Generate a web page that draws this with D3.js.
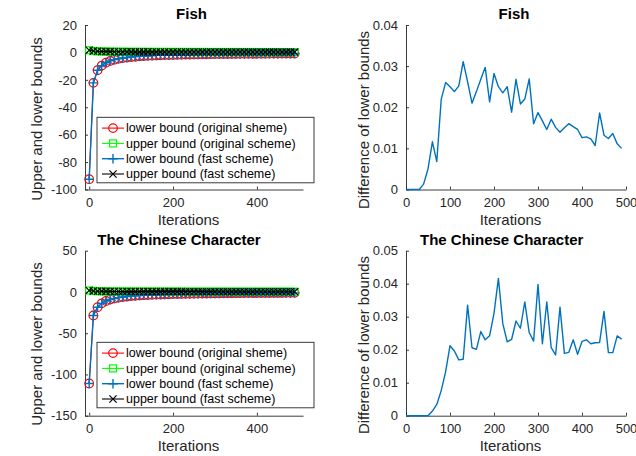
<!DOCTYPE html>
<html>
<head>
<meta charset="utf-8">
<script src="https://cdn.jsdelivr.net/npm/d3@7/dist/d3.min.js"></script>
<style>
body { margin: 0; background: #fff; }
svg text { font-family: "Liberation Sans", Arial, sans-serif; }
.axis path, .axis line { stroke: #262626; stroke-width: 0.9; }
.axis text { fill: #262626; font-size: 13px; }
.title { font-size: 15px; font-weight: bold; fill: #000; }
.label { font-size: 15px; fill: #262626; }
.legend text { font-size: 12.5px; fill: #000; }
</style>
</head>
<body>
<svg id="chart" width="636" height="456"></svg>
<script>
// iteration numbers (one sample every 10 iterations)
var iterations = [0, 10, 20, 30, 40, 50, 60, 70, 80, 90,
    100, 110, 120, 130, 140, 150, 160, 170, 180, 190,
    200, 210, 220, 230, 240, 250, 260, 270, 280, 290,
    300, 310, 320, 330, 340, 350, 360, 370, 380, 390,
    400, 410, 420, 430, 440, 450, 460, 470, 480, 490];

// Fish
var fishLowerOrig = [-92.5, -22.2, -13.0, -9.6, -7.5, -6.2, -5.3, -4.6, -4.1, -3.7,
    -3.35, -3.1, -2.85, -2.65, -2.5, -2.35, -2.2, -2.1, -2.0, -1.9,
    -1.82, -1.74, -1.67, -1.6, -1.54, -1.48, -1.43, -1.38, -1.33, -1.29,
    -1.25, -1.21, -1.18, -1.15, -1.12, -1.09, -1.06, -1.03, -1.01, -0.99,
    -0.96, -0.94, -0.92, -0.9, -0.88, -0.87, -0.85, -0.83, -0.82, -0.8];
var fishUpperOrig = [1.6, 1.0, 0.8, 0.7, 0.62, 0.56, 0.52, 0.49, 0.46, 0.44,
    0.42, 0.41, 0.4, 0.39, 0.38, 0.37, 0.36, 0.35, 0.35, 0.34,
    0.33, 0.33, 0.32, 0.32, 0.31, 0.31, 0.3, 0.3, 0.3, 0.29,
    0.29, 0.29, 0.28, 0.28, 0.28, 0.28, 0.27, 0.27, 0.27, 0.27,
    0.26, 0.26, 0.26, 0.26, 0.26, 0.25, 0.25, 0.25, 0.25, 0.25];
var fishLowerFast = [-92.5, -22.2, -13.0, -9.6, -7.5, -6.19, -5.29, -4.59, -4.08, -3.67,
    -3.33, -3.07, -2.82, -2.62, -2.47, -2.33, -2.18, -2.07, -1.97, -1.88,
    -1.79, -1.72, -1.65, -1.58, -1.52, -1.45, -1.41, -1.36, -1.3, -1.27,
    -1.23, -1.19, -1.17, -1.13, -1.1, -1.08, -1.05, -1.01, -0.99, -0.98,
    -0.95, -0.93, -0.91, -0.89, -0.86, -0.86, -0.84, -0.82, -0.81, -0.79];
var fishUpperFast = [1.6, 1.0, 0.8, 0.7, 0.62, 0.56, 0.52, 0.49, 0.46, 0.44,
    0.42, 0.41, 0.4, 0.39, 0.38, 0.37, 0.36, 0.35, 0.35, 0.34,
    0.33, 0.33, 0.32, 0.32, 0.31, 0.31, 0.3, 0.3, 0.3, 0.29,
    0.29, 0.29, 0.28, 0.28, 0.28, 0.28, 0.27, 0.27, 0.27, 0.27,
    0.26, 0.26, 0.26, 0.26, 0.26, 0.25, 0.25, 0.25, 0.25, 0.25];
var fishDiff = [0, 0, 0, 0, 0.0013, 0.005, 0.0116, 0.0068, 0.0219, 0.026,
    0.025, 0.0238, 0.0252, 0.0311, 0.0262, 0.021, 0.0238, 0.0268, 0.0297, 0.0213,
    0.0282, 0.025, 0.0235, 0.025, 0.0188, 0.0268, 0.0208, 0.022, 0.0269, 0.016,
    0.0187, 0.0167, 0.0146, 0.0171, 0.0151, 0.0139, 0.015, 0.016, 0.0153, 0.0146,
    0.0126, 0.0128, 0.0123, 0.0107, 0.0186, 0.0132, 0.0124, 0.0136, 0.0111, 0.01];

// The Chinese Character
var charLowerOrig = [-111, -28.5, -18.5, -13.8, -11.0, -9.2, -7.9, -6.9, -6.1, -5.5,
    -5.0, -4.6, -4.25, -3.95, -3.7, -3.45, -3.25, -3.07, -2.9, -2.76,
    -2.63, -2.51, -2.4, -2.3, -2.2, -2.12, -2.04, -1.96, -1.89, -1.83,
    -1.77, -1.71, -1.66, -1.61, -1.56, -1.52, -1.48, -1.44, -1.4, -1.37,
    -1.34, -1.3, -1.27, -1.25, -1.22, -1.19, -1.17, -1.15, -1.12, -1.1];
var charUpperOrig = [1.8, 1.2, 0.9, 0.78, 0.7, 0.64, 0.6, 0.56, 0.53, 0.5,
    0.48, 0.46, 0.45, 0.44, 0.43, 0.42, 0.41, 0.4, 0.39, 0.38,
    0.38, 0.37, 0.37, 0.36, 0.36, 0.35, 0.35, 0.34, 0.34, 0.34,
    0.33, 0.33, 0.33, 0.32, 0.32, 0.32, 0.31, 0.31, 0.31, 0.31,
    0.3, 0.3, 0.3, 0.3, 0.29, 0.29, 0.29, 0.29, 0.29, 0.28];
var charLowerFast = [-111, -28.5, -18.5, -13.8, -11.0, -9.2, -7.9, -6.89, -6.09, -5.49,
    -4.98, -4.58, -4.23, -3.93, -3.67, -3.43, -3.23, -3.04, -2.88, -2.74,
    -2.6, -2.47, -2.37, -2.28, -2.18, -2.09, -2.01, -1.93, -1.86, -1.81,
    -1.73, -1.69, -1.63, -1.59, -1.54, -1.49, -1.46, -1.42, -1.38, -1.35,
    -1.32, -1.28, -1.25, -1.23, -1.2, -1.16, -1.15, -1.13, -1.1, -1.08];
var charUpperFast = [1.8, 1.2, 0.9, 0.78, 0.7, 0.64, 0.6, 0.56, 0.53, 0.5,
    0.48, 0.46, 0.45, 0.44, 0.43, 0.42, 0.41, 0.4, 0.39, 0.38,
    0.38, 0.37, 0.37, 0.36, 0.36, 0.35, 0.35, 0.34, 0.34, 0.34,
    0.33, 0.33, 0.33, 0.32, 0.32, 0.32, 0.31, 0.31, 0.31, 0.31,
    0.3, 0.3, 0.3, 0.3, 0.29, 0.29, 0.29, 0.29, 0.29, 0.28];
var charDiff = [0, 0, 0, 0, 0, 0, 0.0014, 0.0034, 0.0076, 0.0133,
    0.0212, 0.0196, 0.0169, 0.0171, 0.0335, 0.0206, 0.0201, 0.0255, 0.023, 0.0242,
    0.031, 0.0416, 0.0279, 0.0224, 0.0231, 0.0287, 0.0265, 0.0345, 0.0252, 0.0226,
    0.0398, 0.0218, 0.0345, 0.0206, 0.0184, 0.0329, 0.0189, 0.0192, 0.023, 0.0186,
    0.0225, 0.023, 0.0218, 0.0221, 0.0222, 0.0316, 0.0191, 0.0191, 0.0242, 0.0232];

var legendLabels = ["lower bound (original sheme)", "upper bound (original scheme)",
    "lower bound (fast scheme)", "upper bound (fast scheme)"];
var boundTicksFish = [-100, -80, -60, -40, -20, 0, 20];
var boundTicksChar = [-150, -100, -50, 0, 50];
var diffTicksFish = [0, 0.01, 0.02, 0.03, 0.04];
var diffTicksChar = [0, 0.01, 0.02, 0.03, 0.04, 0.05];

var svg = d3.select("#chart");
var tickLen = 3;

var markers = {
    circle: function (g, color) {
        g.append("circle").attr("r", 4.3).attr("fill", "none")
            .attr("stroke", color).attr("stroke-width", 1.2);
    },
    square: function (g, color) {
        g.append("rect").attr("x", -3.5).attr("y", -3.5).attr("width", 7).attr("height", 7)
            .attr("fill", "none").attr("stroke", color).attr("stroke-width", 1.2);
    },
    plus: function (g, color) {
        g.append("path").attr("d", "M-4.8,0H4.8M0,-4.8V4.8").attr("fill", "none")
            .attr("stroke", color).attr("stroke-width", 1.4);
    },
    cross: function (g, color) {
        g.append("path").attr("d", "M-3.6,-3.6L3.6,3.6M-3.6,3.6L3.6,-3.6").attr("fill", "none")
            .attr("stroke", color).attr("stroke-width", 1.2);
    }
};

function drawAxes(x, y, xTicks, yTicks, fmt) {
    var y0 = y.range()[0], x0 = x.range()[0];
    svg.append("g")
        .attr("class", "axis")
        .attr("transform", "translate(0," + y0 + ")")
        .call(d3.axisBottom(x).tickValues(xTicks).tickSizeInner(-tickLen).tickSizeOuter(0)
            .tickPadding(8.5).tickFormat(function (d) { return String(d); }));
    svg.append("g")
        .attr("class", "axis")
        .attr("transform", "translate(" + x0 + ",0)")
        .call(d3.axisLeft(y).tickValues(yTicks).tickSizeInner(-tickLen).tickSizeOuter(0)
            .tickPadding(8).tickFormat(fmt));
    svg.selectAll(".axis .domain").attr("fill", "none");
}

function drawText(cfg, yLabel) {
    svg.append("text").attr("class", "title").attr("text-anchor", "middle")
        .attr("x", cfg.titleX).attr("y", cfg.titleY).text(cfg.title);
    svg.append("text").attr("class", "label").attr("text-anchor", "middle")
        .attr("x", cfg.xLabelX).attr("y", cfg.xLabelY).text("Iterations");
    svg.append("text").attr("class", "label").attr("text-anchor", "middle")
        .attr("transform", "translate(" + cfg.yLabelX + "," + cfg.yLabelY + ") rotate(-90)")
        .text(yLabel);
}

function boundsPanel(cfg) {
    var x = d3.scaleLinear().domain([-10, 510]).range([85, 303]);
    var y = d3.scaleLinear().domain(cfg.yDomain).range([cfg.bottom, cfg.top]);

    drawAxes(x, y, [0, 200, 400], cfg.yTicks, function (d) { return String(d); });

    var series = [
        {values: cfg.lowerOrig, color: "#ff0000", marker: "circle", width: 1.1},
        {values: cfg.upperOrig, color: "#00ff00", marker: "square", width: 1.1},
        {values: cfg.lowerFast, color: "#0072bd", marker: "plus", width: 1.4},
        {values: cfg.upperFast, color: "#000000", marker: "cross", width: 1.1}
    ];

    var line = d3.line()
        .x(function (d, i) { return x(iterations[i]); })
        .y(function (d) { return y(d); });

    series.forEach(function (s) {
        svg.append("path")
            .datum(s.values)
            .attr("fill", "none")
            .attr("stroke", s.color)
            .attr("stroke-width", s.width)
            .attr("d", line);
        s.values.forEach(function (v, i) {
            var g = svg.append("g")
                .attr("transform", "translate(" + x(iterations[i]) + "," + y(v) + ")");
            markers[s.marker](g, s.color);
        });
    });

    // legend
    var lg = svg.append("g").attr("class", "legend");
    lg.append("rect")
        .attr("x", 97).attr("y", cfg.legendTop)
        .attr("width", 217).attr("height", 65.5)
        .attr("fill", "#fff").attr("stroke", "#262626").attr("stroke-width", 0.9);
    series.forEach(function (s, i) {
        var ly = cfg.legendTop + 10.8 + i * 15.3;
        lg.append("line")
            .attr("x1", 102).attr("x2", 124).attr("y1", ly).attr("y2", ly)
            .attr("stroke", s.color).attr("stroke-width", s.width);
        markers[s.marker](lg.append("g").attr("transform", "translate(113," + ly + ")"), s.color);
        lg.append("text").attr("x", 126).attr("y", ly).attr("dy", "0.35em").text(legendLabels[i]);
    });

    drawText(cfg, "Upper and lower bounds");
}

function diffPanel(cfg) {
    var x = d3.scaleLinear().domain([0, 500]).range([406, 626]);
    var y = d3.scaleLinear().domain(cfg.yDomain).range([cfg.bottom, cfg.top]);

    drawAxes(x, y, [0, 100, 200, 300, 400, 500], cfg.yTicks,
        function (d) { return d === 0 ? "0" : d.toFixed(2); });

    var line = d3.line()
        .x(function (d, i) { return x(iterations[i]); })
        .y(function (d) { return y(d); });

    svg.append("path")
        .datum(cfg.values)
        .attr("fill", "none")
        .attr("stroke", "#0072bd")
        .attr("stroke-width", 1.4)
        .attr("stroke-linejoin", "round")
        .attr("d", line);

    drawText(cfg, "Difference of lower bounds");
}

boundsPanel({
    title: "Fish", titleX: 191.5, titleY: 19,
    xLabelX: 188.5, xLabelY: 225, yLabelX: 42, yLabelY: 119,
    top: 25, bottom: 189.5, yDomain: [-100, 20], yTicks: boundTicksFish,
    lowerOrig: fishLowerOrig, upperOrig: fishUpperOrig,
    lowerFast: fishLowerFast, upperFast: fishUpperFast,
    legendTop: 117.3
});

boundsPanel({
    title: "The Chinese Character", titleX: 179, titleY: 245,
    xLabelX: 188.5, xLabelY: 451, yLabelX: 42, yLabelY: 344,
    top: 250.7, bottom: 415.7, yDomain: [-150, 50], yTicks: boundTicksChar,
    lowerOrig: charLowerOrig, upperOrig: charUpperOrig,
    lowerFast: charLowerFast, upperFast: charUpperFast,
    legendTop: 342.3
});

diffPanel({
    title: "Fish", titleX: 514, titleY: 19,
    xLabelX: 510.5, xLabelY: 225, yLabelX: 369, yLabelY: 120,
    top: 25, bottom: 189.5, yDomain: [0, 0.04], yTicks: diffTicksFish,
    values: fishDiff
});

diffPanel({
    title: "The Chinese Character", titleX: 501.7, titleY: 245,
    xLabelX: 510.5, xLabelY: 451, yLabelX: 369, yLabelY: 345,
    top: 250.7, bottom: 415.7, yDomain: [0, 0.05], yTicks: diffTicksChar,
    values: charDiff
});
</script>
</body>
</html>
